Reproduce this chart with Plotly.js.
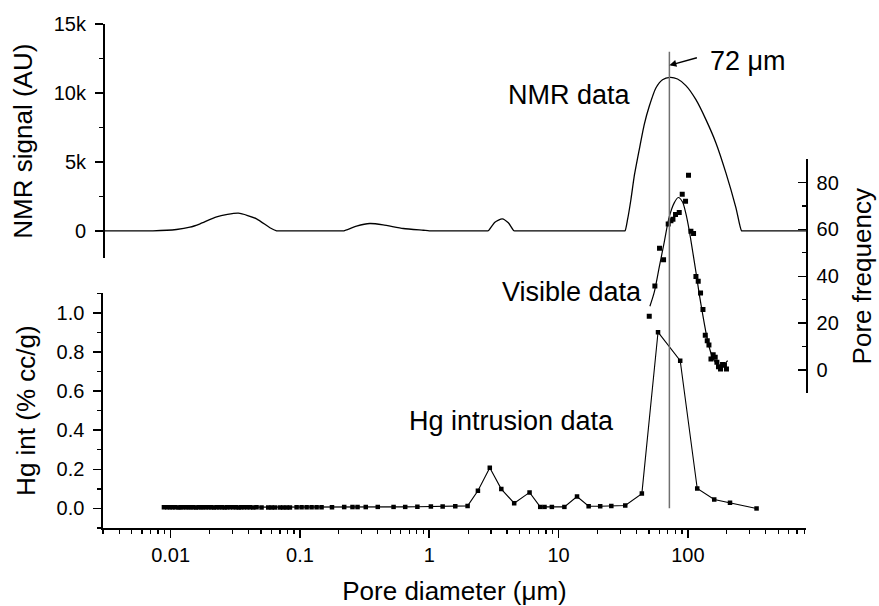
<!DOCTYPE html>
<html><head><meta charset="utf-8">
<script src="https://cdn.plot.ly/plotly-3.0.1.min.js"></script>
<style>html,body{margin:0;padding:0;background:#fff}#chart{width:879px;height:606px}</style>
</head><body><div id="chart"></div>
<script>
// NMR signal (AU) vs pore diameter (um)
const nmrDiameter = [0.003, 0.005, 0.0068, 0.0073, 0.0111, 0.0141, 0.0169, 0.0227, 0.0334, 0.0462, 0.0586, 0.066, 0.0685,
  0.1, 0.212, 0.219, 0.274, 0.347, 0.44, 0.63, 0.9, 1.0, 1.04,
  2.78, 2.86, 3.22, 3.67, 4.09, 4.52, 4.65,
  31.8, 32.7, 34.2, 36.3, 38.5, 42.1, 46, 50.3, 56.6, 63.7, 72.7, 83.2, 96.6, 115.5, 138, 164.9, 197, 235.6, 260, 268, 820];
const nmrSignal = [0, 0, 0, 0, 95, 260, 507, 1014, 1275, 870, 217, 0, 0,
  0, 0, 0, 333, 529, 435, 167, 40, 0, 0,
  0, 0, 623, 870, 580, 0, 0,
  0, 0, 820, 2270, 3960, 5890, 7700, 9030, 10360, 10960, 11130, 11010, 10530, 9510, 8065, 6375, 4200, 1666, 0, 0, 0];

// Hg intrusion (% cc/g)
const hgDiameter = [0.00888, 0.00941, 0.00989, 0.01035, 0.01086, 0.01153, 0.01195, 0.01252, 0.01313, 0.01377,
  0.01429, 0.01497, 0.0157, 0.01647, 0.01725, 0.01788, 0.01875, 0.01967, 0.0206, 0.0216,
  0.0227, 0.02378, 0.02494, 0.02616, 0.0274, 0.02876, 0.0305, 0.032, 0.0336, 0.0352,
  0.0369, 0.0391, 0.041, 0.0435, 0.0462, 0.0505, 0.0569, 0.0604, 0.0641, 0.07,
  0.0743, 0.0789, 0.0837, 0.0943, 0.103, 0.1127, 0.1231, 0.1346, 0.147,
  0.177, 0.22, 0.255, 0.279, 0.323, 0.40, 0.53, 0.652, 0.81, 1.03, 1.27, 1.59, 1.98,
  2.38, 2.94, 3.61, 4.54, 5.97, 7.22, 7.79, 8.88, 11.1, 13.9, 17.1, 21, 25.6, 32.8,
  44.1, 58.8, 87.3, 118.2, 160, 211.9, 340];
const hgIntrusion = [0.006, 0.006, 0.006, 0.006, 0.006, 0.005, 0.006, 0.006, 0.006, 0.006,
  0.006, 0.006, 0.005, 0.006, 0.006, 0.006, 0.006, 0.006, 0.006, 0.005,
  0.006, 0.006, 0.006, 0.005, 0.006, 0.006, 0.006, 0.006, 0.005, 0.006,
  0.006, 0.006, 0.006, 0.005, 0.006, 0.005, 0.005, 0.005, 0.005, 0.005,
  0.005, 0.005, 0.005, 0.006, 0.006, 0.006, 0.006, 0.006, 0.006,
  0.006, 0.007, 0.007, 0.007, 0.007, 0.008, 0.008, 0.008, 0.009, 0.010, 0.010, 0.011, 0.013,
  0.090, 0.208, 0.099, 0.027, 0.082, 0.008, 0.008, 0.008, 0.008, 0.061, 0.011, 0.011, 0.012, 0.015,
  0.076, 0.901, 0.755, 0.102, 0.046, 0.029, 0.0];

// Visible (image analysis) pore frequency
const visDiameter = [50.3, 55.6, 60.4, 64.9, 70.5, 74, 76.7, 80.3, 85.8, 90.5, 96, 101.2, 105.6, 110.7, 115.5,
  120.3, 125.4, 130.9, 136.4, 141.3, 145.6, 151, 157, 162.8, 167.8, 172.6, 179, 185.5, 192, 199];
const visFrequency = [22.9, 35.8, 52, 47, 62.3, 63.7, 64.3, 66.3, 67.2, 75, 72, 83.1, 59.2, 58.2, 39.9,
  37.9, 32.8, 25.8, 14.8, 12.5, 10.7, 4.7, 6.5, 5.4, 3.3, 1.4, 0.4, 2.3, 2, 0.4];
const fitDiameter = [50.9, 55, 60.1, 65.7, 71.8, 78.5, 84.3, 91, 96.6, 102.5, 108.7, 115.5, 122.5, 130, 138,
  146.4, 155.3, 166.7, 180, 191, 203];
const fitFrequency = [27.2, 33.2, 43.9, 54.6, 65.3, 71.3, 73.6, 71.7, 66.7, 59.6, 51, 41.8, 32.5, 24, 16.1,
  9.7, 5.4, 2.6, 1.1, 2.3, 4];

const peakDiameter = 72;
const xTickVals = [0.01, 0.1, 1, 10, 100];
const xTickText = ['0.01', '0.1', '1', '10', '100'];
const nmrTickVals = [0, 5000, 10000, 15000];
const nmrTickText = ['0', '5k', '10k', '15k'];
const hgTickVals = [0, 0.2, 0.4, 0.6, 0.8, 1.0];
const freqTickVals = [0, 20, 40, 60, 80];

const FONT = 'Liberation Sans, Arial, Helvetica, sans-serif';
const TICKF = {family: FONT, size: 20, color: '#000'};
const TITLEF = {family: FONT, size: 26, color: '#000'};
const LABELF = {family: FONT, size: 27, color: '#000'};

const traces = [
  {x: nmrDiameter, y: nmrSignal, xaxis: 'x', yaxis: 'y', mode: 'lines',
   line: {color: '#000', width: 1.3, shape: 'spline', smoothing: 0.6}, hoverinfo: 'skip'},
  {x: hgDiameter, y: hgIntrusion, xaxis: 'x', yaxis: 'y2', mode: 'lines+markers',
   line: {color: '#000', width: 1.1}, marker: {symbol: 'square', size: 4.5, color: '#000'}},
  {x: visDiameter, y: visFrequency, xaxis: 'x', yaxis: 'y3', mode: 'markers',
   marker: {symbol: 'square', size: 5, color: '#000'}},
  {x: fitDiameter, y: fitFrequency, xaxis: 'x', yaxis: 'y3', mode: 'lines',
   line: {color: '#000', width: 1.2, shape: 'spline', smoothing: 0.8}}
];

const axCommon = {showline: true, linecolor: '#000', linewidth: 1.6, showgrid: false, zeroline: false,
  tickcolor: '#000', tickwidth: 1.5, ticklen: 8, tickfont: TICKF};

const layout = {
  width: 879, height: 606,
  margin: {l: 103, r: 73, t: 24, b: 78},
  paper_bgcolor: '#fff', plot_bgcolor: 'rgba(0,0,0,0)',
  showlegend: false,
  font: {family: FONT, color: '#000'},
  xaxis: Object.assign({}, axCommon, {
    type: 'log', domain: [0, 1], anchor: 'y2',
    range: [Math.log10(0.003), Math.log10(820)],
    tickmode: 'array', tickvals: xTickVals, ticktext: xTickText, ticks: 'outside',
    minor: {ticks: 'outside', ticklen: 4, tickwidth: 1.3, tickcolor: '#000', dtick: 'D1', showgrid: false},
    title: {text: 'Pore diameter (μm)', font: TITLEF, standoff: 24}
  }),
  yaxis: Object.assign({}, axCommon, {
    domain: [0.535, 1], anchor: 'free', position: 0,
    range: [-2000, 15000], tickmode: 'array', tickvals: nmrTickVals, ticktext: nmrTickText,
    ticks: 'outside', ticklabelstandoff: 5,
    minor: {ticks: 'outside', ticklen: 4, tickwidth: 1.3, tickcolor: '#000', dtick: 2500, tick0: 0},
    title: {text: 'NMR signal (AU)', font: TITLEF, standoff: 12}
  }),
  yaxis2: Object.assign({}, axCommon, {
    domain: [0, 0.4657], anchor: 'x',
    range: [-0.1, 1.1], tickmode: 'array', tickvals: hgTickVals, tickformat: '.1f',
    ticks: 'outside', ticklabelstandoff: 5,
    minor: {ticks: 'outside', ticklen: 4, tickwidth: 1.3, tickcolor: '#000', dtick: 0.1, tick0: 0},
    title: {text: 'Hg int (% cc/g)', font: TITLEF, standoff: 13}
  }),
  yaxis3: Object.assign({}, axCommon, {
    domain: [0.267, 0.732], anchor: 'free', position: 1, side: 'right',
    range: [-10, 90], tickmode: 'array', tickvals: freqTickVals,
    ticks: 'inside', ticklabelstandoff: 5,
    minor: {ticks: 'inside', ticklen: 4, tickwidth: 1.3, tickcolor: '#000', dtick: 10, tick0: 0},
    title: {text: 'Pore frequency', font: TITLEF, standoff: 15}
  }),
  shapes: [
    {type: 'line', xref: 'x', yref: 'paper', x0: peakDiameter, x1: peakDiameter, y0: 0.039, y1: 0.945,
     line: {color: '#707070', width: 1.5}}
  ],
  annotations: [
    {xref: 'x', yref: 'paper', x: Math.log10(peakDiameter), y: 0.918, text: '', showarrow: true,
     ax: 29, ay: -8, arrowhead: 2, arrowsize: 1, arrowwidth: 1.4, arrowcolor: '#000'},
    {xref: 'paper', yref: 'paper', x: 0.9175, y: 0.9266, xanchor: 'center', yanchor: 'middle',
     text: '72 μm', showarrow: false, font: LABELF},
    {xref: 'paper', yref: 'paper', x: 0.664, y: 0.860, xanchor: 'center', yanchor: 'middle',
     text: 'NMR data', showarrow: false, font: LABELF},
    {xref: 'paper', yref: 'paper', x: 0.667, y: 0.468, xanchor: 'center', yanchor: 'middle',
     text: 'Visible data', showarrow: false, font: LABELF},
    {xref: 'paper', yref: 'paper', x: 0.581, y: 0.213, xanchor: 'center', yanchor: 'middle',
     text: 'Hg intrusion data', showarrow: false, font: LABELF}
  ]
};

Plotly.newPlot('chart', traces, layout, {displayModeBar: false, staticPlot: true});
</script>
</body></html>
